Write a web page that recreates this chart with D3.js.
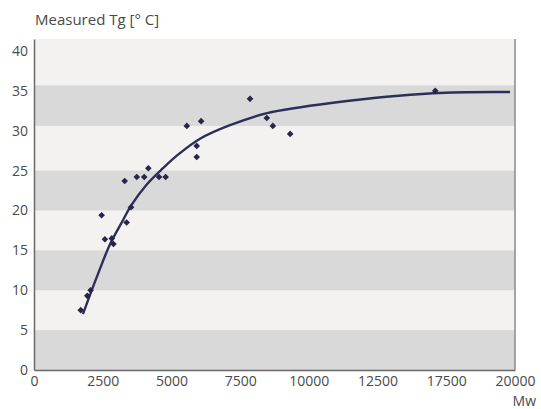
<!DOCTYPE html>
<html>
<head>
<meta charset="utf-8">
<script src="https://cdn.jsdelivr.net/npm/d3@7"></script>
<style>
  body { margin: 0; background: #fff; }
  text { font-family: "Open Sans", "Noto Sans", sans-serif; fill: #4a4a4a; }
</style>
</head>
<body>
<script>
// Set up chart
var svgWidth = 541;
var svgHeight = 409;
var plotLeft = 34;
var plotRight = 515;
var plotTop = 39;
var plotBottom = 370;

// measured points (Mw, Tg)
var pointMw = [1700, 1940, 2060, 2460, 2580, 2830, 2890, 3370, 3530, 3300, 3740, 4010, 4160, 4550, 4790,
               5560, 6080, 5920, 5920, 7860, 8470, 8690, 9320, 16700];
var pointTg = [7.5, 9.3, 10.0, 19.4, 16.4, 16.5, 15.8, 18.5, 20.4, 23.7, 24.2, 24.2, 25.3, 24.2, 24.2,
               30.6, 31.2, 28.1, 26.7, 34.0, 31.6, 30.6, 29.6, 35.0];

// fitted curve
var curveMw = [1780, 2290, 2770, 3240, 3530, 4110, 4690, 5240, 6040, 7130, 8480, 10880, 16540, 19820];
var curveTg = [7.0, 11.7, 15.8, 18.8, 20.6, 23.3, 25.3, 27.0, 29.0, 30.7, 32.2, 33.5, 34.7, 34.85];

// tick labels as printed (15000 is missing on the original axis)
var xTicks = [0, 2500, 5000, 7500, 10000, 12500, 17500, 20000];
var yTicks = [0, 5, 10, 15, 20, 25, 30, 35, 40];

// shaded stripes [from, to]
var stripes = [[0, 5], [10, 15], [20, 25], [30.6, 35.7]];

var svg = d3.select("body")
    .append("svg")
    .attr("width", svgWidth)
    .attr("height", svgHeight);

// x scale: printed ticks are evenly spaced, so use a piecewise scale
var xScale = d3.scaleLinear()
    .domain(xTicks)
    .range(xTicks.map(function(d, i) {
        return plotLeft + i * (plotRight - plotLeft) / (xTicks.length - 1);
    }));

var yScale = d3.scaleLinear()
    .domain([0, 41.5])
    .range([plotBottom, plotTop]);

// background
svg.append("rect")
    .attr("x", plotLeft)
    .attr("y", plotTop)
    .attr("width", plotRight - plotLeft)
    .attr("height", plotBottom - plotTop)
    .attr("fill", "#f4f2f1");

svg.append("g")
    .selectAll("rect")
    .data(stripes)
    .enter()
    .append("rect")
    .attr("x", plotLeft)
    .attr("width", plotRight - plotLeft)
    .attr("y", function(d) { return yScale(d[1]); })
    .attr("height", function(d) { return yScale(d[0]) - yScale(d[1]); })
    .attr("fill", "#dad9d9");

// axes
var xAxis = d3.axisBottom(xScale)
    .tickValues(xTicks)
    .tickSize(0)
    .tickPadding(6)
    .tickFormat(function(d) { return d; });

var gx = svg.append("g")
    .attr("class", "x-axis")
    .attr("transform", `translate(0,${plotBottom})`)
    .call(xAxis);

var yAxis = d3.axisLeft(yScale)
    .tickValues(yTicks)
    .tickSize(0)
    .tickPadding(6);

var gy = svg.append("g")
    .attr("class", "y-axis")
    .attr("transform", `translate(${plotLeft},0)`)
    .call(yAxis);

[gx, gy].forEach(function(g) {
    g.select(".domain").attr("stroke", "#6a6a6a").attr("stroke-width", 1.5);
    g.selectAll("text").attr("font-size", 14).attr("fill", "#4a4a4a");
});
gy.selectAll(".tick text").attr("dy", "0.32em");

// right border
svg.append("line")
    .attr("x1", plotRight)
    .attr("x2", plotRight)
    .attr("y1", plotTop)
    .attr("y2", plotBottom)
    .attr("stroke", "#8a8a8a")
    .attr("stroke-width", 1.5);

// fitted curve
var curveData = curveMw.map(function(d, i) { return [d, curveTg[i]]; });
var line = d3.line()
    .x(function(d) { return xScale(d[0]); })
    .y(function(d) { return yScale(d[1]); })
    .curve(d3.curveCatmullRom.alpha(0.5));

svg.append("path")
    .datum(curveData)
    .attr("d", line)
    .attr("fill", "none")
    .attr("stroke", "#2e2f58")
    .attr("stroke-width", 2.4);

// points as small rotated squares
var pointData = pointMw.map(function(d, i) { return [d, pointTg[i]]; });
svg.append("g")
    .selectAll("path")
    .data(pointData)
    .enter()
    .append("path")
    .attr("transform", function(d) {
        return `translate(${xScale(d[0])},${yScale(d[1])}) rotate(45)`;
    })
    .attr("d", d3.symbol().type(d3.symbolSquare).size(22))
    .attr("fill", "#26264a");

// labels
svg.append("text")
    .attr("x", 35)
    .attr("y", 25)
    .attr("font-size", 15)
    .text("Measured Tg [° C]");

svg.append("text")
    .attr("x", 536)
    .attr("y", 406)
    .attr("text-anchor", "end")
    .attr("font-size", 14)
    .text("Mw");
</script>
</body>
</html>
